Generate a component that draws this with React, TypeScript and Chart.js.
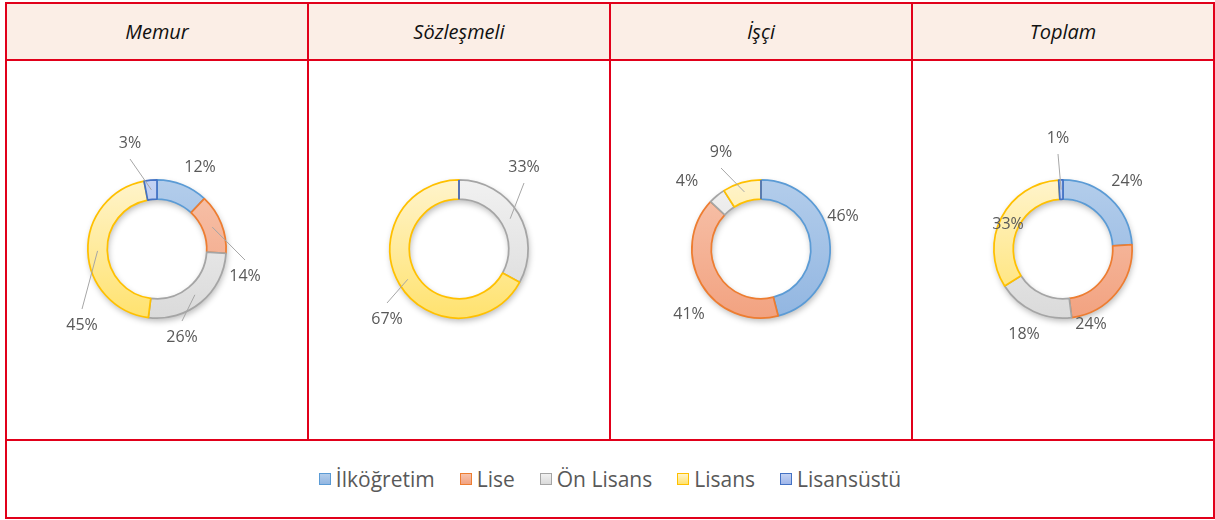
import React, { useEffect, useRef } from 'react';
import { Chart, registerables } from 'chart.js';

Chart.register(...registerables);

// ---------- data ----------
const categories = ['İlköğretim', 'Lise', 'Ön Lisans', 'Lisans', 'Lisansüstü'];
const panelTitles = ['Memur', 'Sözleşmeli', 'İşçi', 'Toplam'];

const memurValues = [12, 14, 26, 45, 3];
const sozlesmeliValues = [0, 0, 33, 67, 0];
const isciValues = [46, 41, 4, 9, 0];
const toplamValues = [24, 24, 18, 33, 1];

// ---------- styles ----------
const borderColors = ['#5B9BD5', '#ED7D31', '#A5A5A5', '#FFC000', '#4472C4'];
const fillTop = ['#B3CDEB', '#F7C3AC', '#F1F1F1', '#FFF4CC', '#C3D2F3'];
const fillBottom = ['#92B6E1', '#F2A280', '#DADADA', '#FFE26E', '#9FB6EA'];

// label placement relative to the ring centre: [dx, dy, leaderLine]
const memurLabelPlacement = [[43, -82, 0], [88, 27, 1], [25, 88, 1], [-75, 76, 1], [-27, -106, 1]];
const sozlesmeliLabelPlacement = [[0, 0, 0], [0, 0, 0], [65, -82, 1], [-72, 70, 1], [0, 0, 0]];
const isciLabelPlacement = [[82, -33, 0], [-72, 65, 0], [-74, -68, 0], [-40, -97, 1], [0, 0, 0]];
const toplamLabelPlacement = [[64, -68, 0], [28, 75, 0], [-39, 85, 0], [-55, -25, 0], [-5, -111, 1]];

const RED = '#E1001A';
const FONT = '"Open Sans", "DejaVu Sans", sans-serif';

function makeLabelPlugin(values: number[], placement: number[][]) {
  return {
    id: 'sliceLabels',
    beforeDatasetsDraw(chart: any) {
      // soft drop shadow under the whole ring
      const ctx = chart.ctx;
      const arc = chart.getDatasetMeta(0).data[0];
      if (!arc) return;
      const p = arc.getProps(['x', 'y', 'innerRadius', 'outerRadius'], true);
      ctx.save();
      ctx.shadowColor = 'rgba(0,0,0,0.28)';
      ctx.shadowBlur = 6;
      ctx.shadowOffsetX = 1;
      ctx.shadowOffsetY = 3;
      ctx.fillStyle = '#ffffff';
      ctx.beginPath();
      ctx.arc(p.x, p.y, p.outerRadius, 0, Math.PI * 2, false);
      ctx.arc(p.x, p.y, p.innerRadius, 0, Math.PI * 2, true);
      ctx.closePath();
      ctx.fill('evenodd');
      ctx.restore();
    },
    afterDatasetsDraw(chart: any) {
      const ctx = chart.ctx;
      const meta = chart.getDatasetMeta(0);
      const total = values.reduce((a, b) => a + b, 0);
      ctx.save();
      meta.data.forEach((arc: any, i: number) => {
        const p = arc.getProps(['x', 'y', 'startAngle', 'endAngle', 'innerRadius', 'outerRadius'], true);
        const v = values[i];
        if (v === 0) {
          // zero-size slice: only its border edge is visible
          ctx.strokeStyle = borderColors[i];
          ctx.lineWidth = 1.75;
          ctx.beginPath();
          ctx.moveTo(p.x + Math.cos(p.startAngle) * p.innerRadius, p.y + Math.sin(p.startAngle) * p.innerRadius);
          ctx.lineTo(p.x + Math.cos(p.startAngle) * p.outerRadius, p.y + Math.sin(p.startAngle) * p.outerRadius);
          ctx.stroke();
          return;
        }
        const mid = (p.startAngle + p.endAngle) / 2;
        const rm = (p.innerRadius + p.outerRadius) / 2;
        const sx = p.x + Math.cos(mid) * rm;
        const sy = p.y + Math.sin(mid) * rm;
        const [dx, dy, leader] = placement[i];
        const lx = p.x + dx;
        const ly = p.y + dy;
        if (leader) {
          ctx.strokeStyle = '#A6A6A6';
          ctx.lineWidth = 1;
          ctx.beginPath();
          ctx.moveTo(sx, sy);
          ctx.lineTo(lx, ly + (ly > sy ? -16 : 16));
          ctx.stroke();
        }
        ctx.fillStyle = '#595959';
        ctx.font = '16px ' + FONT;
        ctx.textAlign = 'center';
        ctx.textBaseline = 'middle';
        ctx.fillText(Math.round((v / total) * 100) + '%', lx, ly);
      });
      ctx.restore();
    },
  };
}

function Donut({ values, placement, left }: { values: number[]; placement: number[][]; left: number }) {
  const ref = useRef<HTMLCanvasElement>(null);
  useEffect(() => {
    const chart = new Chart(ref.current as HTMLCanvasElement, {
      type: 'doughnut',
      data: {
        labels: categories,
        datasets: [
          {
            data: values,
            backgroundColor: (c: any) => {
              const area = c.chart.chartArea;
              const i = c.dataIndex;
              if (!area) return fillTop[i];
              const g = c.chart.ctx.createLinearGradient(0, area.top, 0, area.bottom);
              g.addColorStop(0, fillTop[i]);
              g.addColorStop(1, fillBottom[i]);
              return g;
            },
            borderColor: borderColors,
            borderWidth: 1.75,
          },
        ],
      },
      options: {
        responsive: false,
        animation: false,
        cutout: '72%',
        layout: { padding: { left: 80, right: 80, top: 118, bottom: 120 } },
        plugins: { legend: { display: false }, tooltip: { enabled: false } },
      },
      plugins: [makeLabelPlugin(values, placement)],
    } as any);
    return () => chart.destroy();
  }, []);
  return (
    <canvas
      ref={ref}
      width={300}
      height={378}
      style={{ position: 'absolute', left, top: 61, width: 300, height: 378 }}
    />
  );
}

const hLine = (top: number) => (
  <div key={'h' + top} style={{ position: 'absolute', left: 5, top, width: 1210, height: 2, background: RED }} />
);
const vLine = (left: number, height: number) => (
  <div key={'v' + left} style={{ position: 'absolute', left, top: 2, width: 2, height, background: RED }} />
);

export default function App() {
  const colLefts = [7, 309, 611, 913];
  const panels = [
    { values: memurValues, placement: memurLabelPlacement },
    { values: sozlesmeliValues, placement: sozlesmeliLabelPlacement },
    { values: isciValues, placement: isciLabelPlacement },
    { values: toplamValues, placement: toplamLabelPlacement },
  ];
  return (
    <div style={{ position: 'absolute', left: 0, top: 0, width: 1215, height: 520, background: '#fff', fontFamily: FONT }}>
      <div style={{ position: 'absolute', left: 7, top: 4, width: 1206, height: 55, background: '#FBEEE6' }} />
      {panelTitles.map((t, i) => (
        <div
          key={t}
          style={{
            position: 'absolute',
            left: colLefts[i],
            top: 4,
            width: 300,
            height: 55,
            display: 'flex',
            alignItems: 'center',
            justifyContent: 'center',
            fontStyle: 'italic',
            fontSize: 20,
            color: '#111',
          }}
        >
          {t}
        </div>
      ))}
      {panels.map((p, i) => (
        <Donut key={i} values={p.values} placement={p.placement} left={colLefts[i]} />
      ))}
      <div
        style={{
          position: 'absolute',
          left: 7,
          top: 441,
          width: 1206,
          height: 76,
          display: 'flex',
          alignItems: 'center',
          justifyContent: 'center',
          gap: 25,
        }}
      >
        {categories.map((c, i) => (
          <div key={c} style={{ display: 'flex', alignItems: 'center' }}>
            <div
              style={{
                width: 10,
                height: 10,
                border: '1.5px solid ' + borderColors[i],
                background: `linear-gradient(${fillTop[i]}, ${fillBottom[i]})`,
                marginRight: 5,
              }}
            />
            <span style={{ fontSize: 21, color: '#595959', lineHeight: '24px' }}>{c}</span>
          </div>
        ))}
      </div>
      {hLine(2)}
      {hLine(59)}
      {hLine(439)}
      {hLine(517)}
      {vLine(5, 517)}
      {vLine(307, 437)}
      {vLine(609, 437)}
      {vLine(911, 437)}
      {vLine(1213, 517)}
    </div>
  );
}
